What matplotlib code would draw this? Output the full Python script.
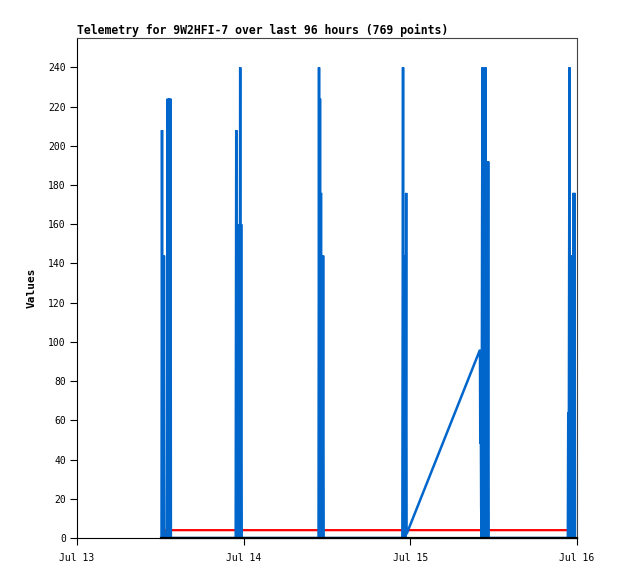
import numpy as np
import matplotlib
matplotlib.use('Agg')
import matplotlib.pyplot as plt

# hours since Jul 13 00:00
tick_hours = [0, 24, 48, 72]
tick_labels = ['Jul 13', 'Jul 14', 'Jul 15', 'Jul 16']
y_ticks = list(range(0, 241, 20))

title = 'Telemetry for 9W2HFI-7 over last 96 hours (769 points)'

# blue channel, bursts of packets
blue_hours = [
    12.17, 12.24, 12.31, 12.38, 12.45, 12.52, 12.59, 12.66,
    12.98, 13.05, 13.12, 13.19, 13.26, 13.33, 13.40, 13.47, 13.52,
    22.85, 22.93, 23.00, 23.07, 23.14, 23.21, 23.28, 23.35, 23.42, 23.50,
    23.56, 23.64, 23.72,
    34.78, 34.85, 34.92, 34.99, 35.06, 35.13, 35.20, 35.28, 35.36, 35.44,
    35.52,
    46.85, 46.95, 47.02, 47.09, 47.16, 47.23, 47.31, 47.40, 47.46,
    58.03, 58.07, 58.13, 58.20, 58.26, 58.33, 58.40, 58.47, 58.55, 58.65, 58.73,
    58.82, 58.89, 58.97, 59.05, 59.13, 59.21, 59.28,
    70.68, 70.74, 70.80, 70.92, 71.00, 71.08, 71.15, 71.22, 71.29, 71.36,
    71.44, 71.51, 71.58, 71.65, 71.71,
]
blue_values = [
    0, 208, 0, 144, 0, 144, 0, 2,
    0, 224, 0, 224, 0, 224, 0, 224, 0,
    0, 208, 0, 160, 0, 160, 0, 160, 0, 240,
    0, 160, 0,
    0, 240, 0, 224, 0, 176, 0, 144, 0, 144,
    0,
    0, 240, 0, 144, 0, 144, 0, 176, 2,
    96, 48, 80, 16, 0, 160, 240, 0, 160, 208, 0,
    240, 0, 160, 192, 0, 192, 0,
    0, 64, 0, 240, 0, 144, 0, 144, 0, 144,
    0, 176, 0, 176, 0,
]

red_hours = [12.62, 12.70, 70.70]
red_values = [2, 4, 4]

black_hours = [12.10, 72.0]
black_values = [0, 0]


def main():
    plt.rcParams['font.family'] = ['DejaVu Sans Mono']
    fig = plt.figure(figsize=(6.18, 5.79), dpi=100)
    ax = fig.add_axes([77 / 618, 41 / 579, 500 / 618, 500 / 579])

    ax.plot(red_hours, red_values, color='#ff0000', lw=1.6, zorder=2)
    ax.plot(blue_hours, blue_values, color='#0066cc', lw=1.8, zorder=3,
            solid_joinstyle='bevel')
    ax.plot(black_hours, black_values, color='#000000', lw=1.6, zorder=4,
            clip_on=False)

    ax.set_xlim(0, 72)
    ax.set_ylim(0, 255)
    ax.set_xticks(tick_hours)
    ax.set_xticklabels(tick_labels)
    ax.set_yticks(y_ticks)
    ax.tick_params(axis='both', direction='out', length=5, width=0.8,
                   labelsize=7, colors='black', pad=3)
    ax.tick_params(axis='x', pad=6)

    for side in ['top', 'right']:
        ax.spines[side].set_color('#444444')
        ax.spines[side].set_linewidth(0.8)
    for side in ['left', 'bottom']:
        ax.spines[side].set_color('black')
        ax.spines[side].set_linewidth(0.8)

    ax.set_ylabel('Values', fontsize=8, fontweight='bold', labelpad=8)
    ax.set_title(title, loc='left', fontsize=8.3, fontweight='bold', pad=3)

    fig.savefig('out.png', dpi=100)


if __name__ == '__main__':
    main()
